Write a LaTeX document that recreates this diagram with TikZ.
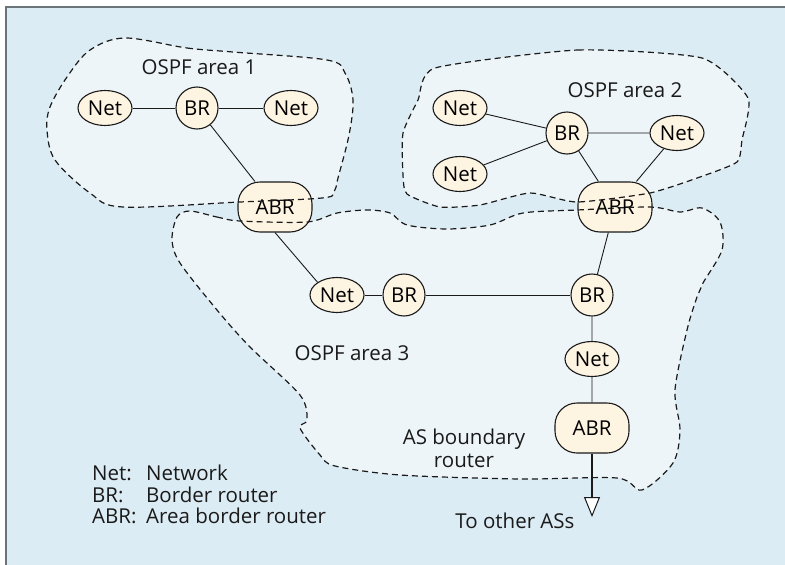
\documentclass[tikz,border=0pt]{standalone}
\usepackage{fontspec}
\setmainfont{Open Sans}
\usetikzlibrary{shapes.geometric,arrows.meta}

\begin{document}
\begin{tikzpicture}[
  x=1pt, y=-1pt,
  font=\fontsize{20.5}{23}\selectfont,
  every node/.style={inner sep=0pt},
  net/.style={ellipse, draw=ink, line width=1.1pt, fill=nodefill,
    minimum width=54pt, minimum height=35pt},
  br/.style={circle, draw=ink, line width=1.1pt, fill=nodefill,
    minimum size=42pt},
  abr/.style={rectangle, rounded corners=22pt, draw=ink, line width=1.1pt,
    fill=nodefill, minimum width=74pt, minimum height=50pt},
  link/.style={draw=ink, line width=0.9pt},
  arealine/.style={draw=ink, line width=1.2pt, dash pattern=on 6pt off 4pt},
  label/.style={text=ink, anchor=base},
]

\definecolor{bgblue}{HTML}{DCECF4}
\definecolor{areafill}{HTML}{EEF5F8}
\definecolor{nodefill}{HTML}{FEF4E2}
\definecolor{ink}{HTML}{1A1A1A}
\definecolor{frame}{HTML}{6B7476}

\useasboundingbox (0,0) rectangle (785,565);

% background and frame
\fill[bgblue] (6,7) rectangle (790,570);
\draw[frame, line width=2pt] (6,570) -- (6,7) -- (790,7);

% area outlines
\def\areaone{plot[smooth cycle, tension=0.55] coordinates {
  (125,38) (187,48) (233,52) (327,60) (345,73) (353,100) (349,135)
  (338,178) (334,192) (322,198) (240,202) (123,207) (90,193) (55,160)
  (47,130) (50,107) (67,77) (90,50)}}
\def\areatwo{plot[smooth cycle, tension=0.35] coordinates {
  (435,68) (578,50) (702,58) (748,98) (742,140) (737,162) (700,177)
  (650,193) (577,202) (530,193) (480,205) (440,207) (407,194) (403,175)
  (403,133) (418,100)}}
\def\areathree{plot[smooth cycle, tension=0.5] coordinates {
  (190,211) (217,217) (240,221) (307,222) (337,213) (367,210) (390,213)
  (407,225) (447,229) (490,225) (523,213) (577,210) (650,207) (680,212)
  (702,208) (720,222) (722,250) (703,283) (697,297) (687,330) (675,390)
  (680,430) (673,463) (642,490) (617,478) (520,479) (400,475) (335,466)
  (320,455) (300,428) (307,420) (300,395) (250,347) (217,310) (180,263)
  (172,240) (177,217)}}

\fill[areafill] \areaone;
\fill[areafill] \areatwo;
\fill[areafill] \areathree;

% area 1
\node[net] (net1a) at (105,108) {Net};
\node[br]  (br1)   at (197,108) {BR};
\node[net] (net1b) at (291,108) {Net};
\node[abr] (abr1)  at (275,207) {ABR};

% area 2
\node[net] (net2a) at (460,108) {Net};
\node[net] (net2b) at (460,174) {Net};
\node[br]  (br2)   at (567,133) {BR};
\node[net] (net2c) at (677,133) {Net};
\node[abr] (abr2)  at (615,207) {ABR};

% area 3
\node[net] (net3a) at (337,295) {Net};
\node[br]  (br3a)  at (404,295) {BR};
\node[br]  (br3b)  at (592,295) {BR};
\node[net] (net3b) at (592,359) {Net};
\node[abr] (abr3)  at (592,428) {ABR};
\coordinate (out) at (592,517);

% links
\path[link] (net1a) -- (br1) -- (net1b);
\path[link] (br1) -- (abr1);
\path[link] (net2a) -- (br2) -- (net2c);
\path[link] (net2b) -- (br2) -- (abr2);
\path[link] (net2c) -- (abr2);
\path[link] (abr1.south) -- (net3a.north west);
\path[link] (net3a) -- (br3a) -- (br3b);
\path[link] (abr2) -- (br3b) -- (net3b) -- (abr3);
\draw[ink, line width=2.2pt,
  -{Triangle[width=16pt, length=20pt, fill=white, line width'=1pt]}]
  (abr3) -- (out);

\draw[arealine] \areaone;
\draw[arealine] \areatwo;
\draw[arealine] \areathree;

% labels
\node[label] (t1) at (199,74) {OSPF area 1};
\node[label] (t2) at (625,97) {OSPF area 2};
\node[label] (t3) at (352,360) {OSPF area 3};
\node[text=ink, align=center] (asb) at (464,448) {AS boundary\\router};
\node[label] (toas) at (515,528) {To other ASs};

% legend
\node[label, anchor=base west] (k1) at (92,480) {Net:};
\node[label, anchor=base west] (k2) at (92,502) {BR:};
\node[label, anchor=base west] (k3) at (92,523) {ABR:};
\node[label, anchor=base west] (d1) at (146,480) {Network};
\node[label, anchor=base west] (d2) at (146,502) {Border router};
\node[label, anchor=base west] (d3) at (146,523) {Area border router};

\end{tikzpicture}
\end{document}
